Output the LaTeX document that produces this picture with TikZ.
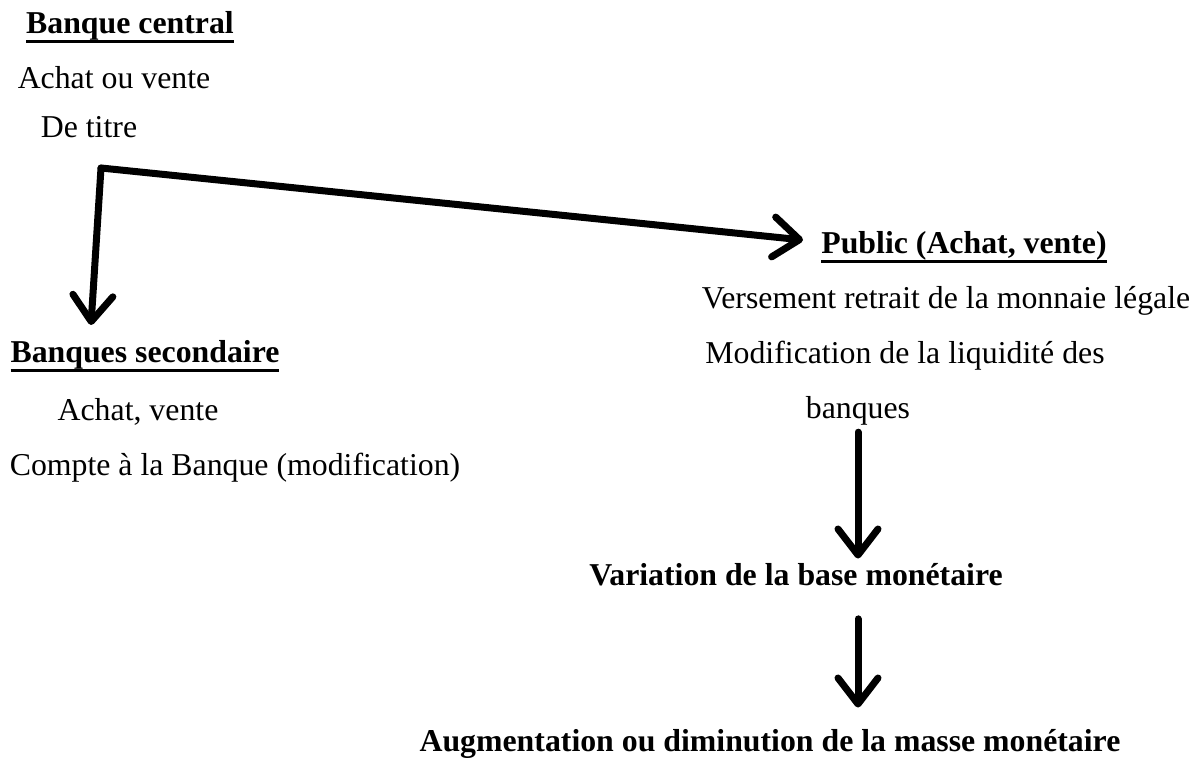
\documentclass[tikz,border=0pt]{standalone}
\usepackage{fontspec}
\setmainfont{Liberation Serif}
\usetikzlibrary{arrows.meta}

\newcommand\ulbold[1]{\textbf{\setbox0\hbox{#1}\rlap{\rule[-4.6pt]{\wd0}{1.8pt}}\box0}}

\begin{document}
\begin{tikzpicture}[x=0.5pt, y=-0.5pt,
  >={Straight Barb[length=13pt, width=20pt, round]},
  every node/.style={font=\fontsize{15.9}{19}\selectfont, inner sep=0pt, anchor=base},
  arrow/.style={->, line width=3.5pt, line cap=round, line join=round}]
\useasboundingbox (0,0) rectangle (1200,758);
% left column
\node (central) at (130,34) {\ulbold{Banque central}};
\foreach \t/\x/\y [count=\i] in {Achat ou vente/114/89, De titre/89/138}
  \node (central-\i) at (\x,\y) {\t};
\node (second) at (145,363) {\ulbold{Banques secondaire}};
\foreach \t/\x/\y [count=\i] in {{Achat, vente}/138/421, Compte à la Banque (modification)/235/476}
  \node (second-\i) at (\x,\y) {\t};
% right column
\node (public) at (964,254) {\ulbold{Public (Achat, vente)}};
\foreach \t/\x/\y [count=\i] in {Versement retrait de la monnaie légale/946/309,
    Modification de la liquidité des/905/364, banques/858/419}
  \node (public-\i) at (\x,\y) {\t};
\node (base) at (796,586) {\textbf{Variation de la base monétaire}};
\node (masse) at (770,752) {\textbf{Augmentation ou diminution de la masse monétaire}};
% arrows
\coordinate (fork) at (101,168);
\coordinate (public-in) at (803,240);
\coordinate (second-in) at (91,325);
\draw [arrow] (fork) -- (public-in);
\draw [arrow] (fork) -- (second-in);
\draw [arrow, shorten <=3pt, shorten >=2.5pt] (public-3.south) -- (public-3.south |- base.north);
\draw [arrow, shorten <=16pt, shorten >=11pt] (public-3.south |- base.south) -- (public-3.south |- masse.north);
\end{tikzpicture}
\end{document}
